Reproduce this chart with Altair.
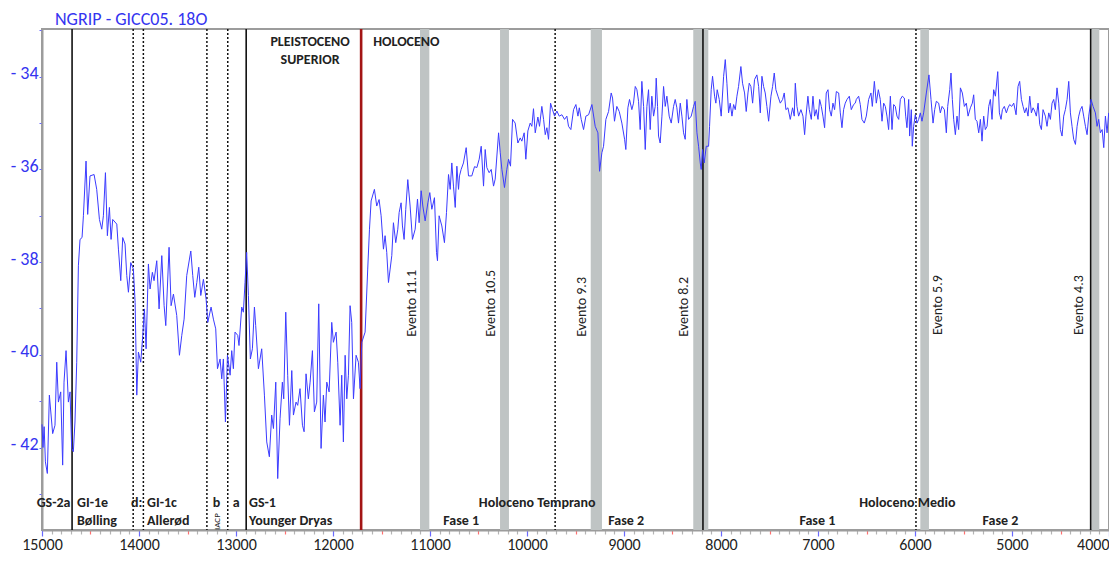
import altair as alt
import pandas as pd

FONT = "Carlito, Lato, sans-serif"
BLUE = "#3434f0"

# ---------------- data: NGRIP d18O curve (years b2k, per mil) ----------------
years = [
    15000, 14990, 14978, 14965, 14945, 14924, 14890, 14866, 14848, 14831, 14807, 14787, 14773, 14752,
    14728, 14711, 14694, 14677, 14660, 14642, 14625, 14608, 14587, 14573, 14546, 14529, 14505, 14463,
    14436, 14408, 14384, 14367, 14346, 14326, 14305, 14288, 14271, 14229, 14212, 14188, 14168, 14144,
    14126, 14109, 14085, 14058, 14040, 14023, 14006, 13982, 13961, 13944, 13927, 13903, 13886, 13862,
    13845, 13817, 13793, 13765, 13741, 13724, 13690, 13669, 13645, 13611, 13583, 13559, 13535, 13508,
    13466, 13446, 13425, 13404, 13384, 13363, 13336, 13308, 13291, 13257, 13233, 13209, 13191, 13164,
    13147, 13130, 13109, 13088, 13061, 13044, 13027, 13010, 12982, 12969, 12941, 12924, 12907, 12890,
    12872, 12852, 12831, 12810, 12797, 12769, 12735, 12707, 12683, 12656, 12632, 12614, 12590, 12570,
    12546, 12522, 12508, 12487, 12467, 12449, 12425, 12408, 12381, 12364, 12340, 12315, 12298, 12278,
    12254, 12236, 12212, 12192, 12168, 12147, 12123, 12099, 12082, 12064, 12040, 12013, 11996, 11968,
    11951, 11927, 11910, 11893, 11875, 11858, 11841, 11824, 11807, 11789, 11762, 11738, 11721, 11703,
    11669, 11642, 11624, 11607, 11573, 11549, 11525, 11504, 11480, 11463, 11446, 11428, 11411, 11394,
    11377, 11353, 11332, 11318, 11298, 11284, 11267, 11250, 11229, 11205, 11181, 11153,
    11129, 11112, 11091, 11074, 11050, 11022, 11002, 10981, 10954, 10933, 10923, 10906, 10878, 10851,
    10830, 10809, 10792, 10775, 10758, 10740, 10723, 10706, 10696, 10679, 10655, 10627, 10603, 10569,
    10541, 10517, 10493, 10472, 10448, 10431, 10414, 10390, 10369, 10345, 10328, 10293, 10276, 10259,
    10232, 10208, 10190, 10170, 10149, 10122, 10094, 10070, 10053, 10029, 10012, 9991, 9967, 9950,
    9933, 9915, 9888, 9871, 9847, 9829, 9812, 9795, 9778, 9757, 9737, 9716, 9692, 9668,
    9640, 9613, 9589, 9572, 9548, 9520, 9496, 9475, 9461, 9441, 9417, 9393, 9365, 9331,
    9297, 9269, 9252,
    9228, 9211, 9187, 9159, 9132, 9118, 9098, 9074, 9049, 9022, 8994, 8981, 8960, 8943,
    8919, 8902, 8884, 8867, 8850, 8833, 8816, 8798, 8781, 8764, 8747, 8730, 8713, 8695,
    8678, 8668, 8654, 8644, 8627, 8609, 8592, 8575, 8558, 8534, 8513, 8489, 8472, 8455,
    8438, 8420, 8403, 8386, 8369, 8352, 8334, 8307, 8283, 8266, 8248, 8231, 8214, 8204,
    8190, 8173, 8152, 8128, 8118, 8101, 8087, 8066, 8053, 8039, 8018, 7998, 7973, 7956,
    7939, 7922, 7905, 7887, 7870, 7853, 7836, 7819, 7795, 7778, 7757, 7740, 7722, 7709,
    7692, 7674, 7654, 7630, 7612, 7595, 7578, 7561, 7544, 7527, 7509, 7485, 7468, 7451,
    7434, 7413, 7389, 7365, 7348, 7331, 7310, 7286, 7262, 7245, 7234, 7217, 7200, 7176,
    7155, 7138, 7124, 7104, 7090, 7069, 7052, 7035, 7018, 7000, 6983, 6966, 6949, 6932,
    6915, 6897, 6880, 6863, 6846, 6829, 6811, 6787, 6770, 6753, 6736, 6719, 6701, 6677,
    6657, 6633, 6616,
    6605, 6581, 6564, 6547, 6523, 6502, 6478, 6454, 6440, 6419, 6399, 6378, 6358, 6340,
    6323, 6306, 6289, 6272, 6254, 6237, 6220, 6203, 6186, 6168, 6151, 6131, 6110, 6096,
    6083, 6065, 6055, 6038, 6028, 6014, 5997, 5979, 5962, 5945, 5928, 5911, 5883, 5856,
    5835, 5814, 5797, 5780, 5756, 5739, 5721, 5697, 5677, 5663, 5642, 5629, 5615, 5601,
    5584, 5567, 5550, 5532, 5512, 5491, 5471, 5453, 5429, 5409, 5395, 5378, 5361, 5343,
    5326, 5309, 5292, 5275, 5257, 5240, 5223, 5206, 5189, 5171, 5147, 5130, 5113, 5099,
    5079, 5058, 5041, 5024, 5003, 4982, 4958, 4938, 4921, 4903, 4886, 4869, 4852, 4835,
    4817, 4800, 4783, 4766, 4749, 4731, 4714, 4697, 4680, 4656, 4639, 4621, 4604, 4587,
    4570, 4553, 4536, 4518, 4501, 4484, 4467, 4450, 4432, 4415, 4398, 4381, 4364, 4346,
    4329, 4312, 4295, 4278, 4261, 4243, 4226, 4209, 4185, 4164, 4140, 4123, 4106, 4089,
    4071, 4054, 4037, 4020, 4003,
]
d18o = [
    -41.50, -42.00, -41.55, -42.31, -42.56, -40.87, -41.70, -41.52, -40.16, -41.02, -40.80, -42.38, -40.59, -39.91,
    -41.02, -40.80, -42.02, -42.09, -41.45, -40.16, -38.08, -37.51, -37.47, -37.00, -35.82, -36.97, -36.14, -36.11,
    -36.43, -37.08, -37.29, -37.00, -36.07, -37.43, -36.82, -37.51, -37.08, -37.18, -37.72, -38.40, -37.47, -37.61,
    -38.29, -38.65, -38.01, -38.15, -38.87, -40.87, -39.94, -40.16, -39.58, -39.01, -39.87, -38.04, -38.58, -38.22,
    -38.40, -37.97, -39.01, -37.86, -38.94, -39.37, -37.68, -38.94, -38.69, -39.15, -40.01, -39.58, -39.23, -38.29,
    -37.76, -38.29, -38.76, -38.44, -38.11, -38.72, -38.37, -38.80, -39.30, -38.97, -39.23, -39.44, -40.30, -40.09,
    -40.52, -40.09, -41.45, -40.01, -40.44, -39.91, -40.30, -39.51, -39.58, -39.80, -38.97, -39.08, -38.44, -37.79,
    -38.72, -40.09, -39.87, -38.97, -39.37, -40.30, -39.87, -40.87, -41.88, -42.20, -41.30, -41.59, -40.59, -42.67,
    -41.38, -40.59, -40.95, -39.08, -40.44, -41.52, -40.34, -41.30, -41.02, -41.09, -40.73, -41.52, -41.66, -40.41,
    -40.95, -40.59, -39.91, -41.23, -41.02, -38.90, -42.02, -40.87, -41.45, -40.59, -40.80, -39.30, -39.73, -39.51,
    -40.16, -41.52, -40.44, -41.88, -40.01, -40.95, -40.44, -38.94, -39.30, -40.95, -40.01, -40.16, -40.73, -39.73,
    -39.51, -38.15, -37.29, -36.68, -36.43, -36.79, -36.65, -37.00, -37.72, -37.43, -37.79, -38.44, -38.15, -37.86,
    -37.15, -37.58, -37.29, -36.93, -36.72, -37.22, -37.51, -36.86, -36.22, -36.79, -37.51, -37.29,
    -36.64, -37.15, -36.46, -36.79, -37.11, -36.72, -36.50, -36.86, -36.61, -37.79, -37.97, -37.00, -37.22, -37.58,
    -36.93, -36.11, -36.43, -35.86, -36.36, -36.82, -35.93, -36.43, -36.14, -36.00, -35.86, -35.53, -36.14, -36.14,
    -35.94, -35.96, -35.78, -35.50, -36.36, -35.57, -35.96, -36.07, -36.00, -36.36, -36.21, -35.21, -35.64, -36.00,
    -36.39, -36.00, -35.78, -35.93, -34.92, -35.00, -35.43, -35.32, -35.39, -35.21, -35.78, -35.17, -35.00, -35.07,
    -34.69, -35.21, -34.87, -35.07, -34.64, -34.92, -35.25, -35.10, -35.35, -34.57, -34.71, -34.85, -34.74, -34.85,
    -34.82, -34.92, -34.85, -35.07, -35.14, -34.71, -34.60, -34.85, -34.67, -34.92, -35.14, -34.85, -34.82, -34.60,
    -35.07, -35.21, -36.04,
    -35.64, -35.50, -34.92, -34.75, -34.35, -34.46, -34.96, -34.64, -34.75, -35.00, -35.35, -35.57, -34.67, -34.49,
    -34.71, -34.57, -34.21, -34.28, -34.53, -35.14, -34.10, -34.64, -35.57, -34.64, -34.28, -35.14, -34.42, -34.85,
    -34.64, -34.03, -34.64, -35.28, -35.43, -34.85, -34.21, -34.64, -34.42, -34.85, -35.00, -34.64, -34.49, -34.67,
    -35.00, -34.57, -34.85, -35.21, -35.35, -34.49, -34.92, -34.85, -34.64, -34.53, -35.21, -35.50, -35.86, -36.00,
    -35.57, -35.86, -35.50, -35.50, -35.07, -34.28, -33.99, -34.42, -34.57, -34.28, -34.49, -34.85, -33.99, -33.63,
    -34.14, -34.78, -34.57, -34.85, -34.60, -34.71, -34.42, -34.21, -33.78, -34.14, -34.35, -34.75, -34.35, -34.14,
    -34.21, -34.57, -34.06, -33.96, -34.21, -34.78, -33.99, -34.21, -34.35, -34.64, -34.96, -34.42, -34.21, -33.92,
    -34.28, -34.42, -34.57, -34.49, -34.35, -34.71, -34.67, -34.92, -34.67, -34.85, -34.14, -34.64, -34.85, -34.71,
    -34.85, -35.25, -34.85, -34.42, -34.71, -34.92, -34.42, -34.85, -34.71, -34.92, -34.49, -34.64, -34.85, -35.10,
    -34.35, -34.28, -34.71, -34.85, -34.57, -34.71, -34.32, -34.35, -34.78, -35.10, -34.71, -34.57, -34.49, -34.42,
    -34.71, -34.60, -34.57,
    -34.49, -34.42, -34.60, -34.92, -35.00, -34.85, -34.49, -34.35, -34.64, -34.10, -34.57, -34.28, -34.49, -34.96,
    -34.57, -34.64, -34.85, -35.14, -34.42, -35.14, -34.60, -34.64, -34.85, -34.92, -34.49, -34.42, -34.46, -34.85,
    -35.10, -34.49, -35.28, -34.71, -35.50, -35.07, -34.82, -35.00, -34.92, -34.78, -34.96, -34.78, -34.35, -33.96,
    -34.49, -35.00, -34.71, -34.53, -34.57, -34.78, -34.64, -34.71, -35.21, -34.64, -34.28, -33.92, -34.49, -34.92,
    -35.25, -34.85, -35.14, -34.24, -34.35, -34.64, -34.57, -34.85, -34.67, -34.57, -34.39, -34.92, -34.96, -35.21,
    -34.92, -35.39, -34.85, -35.14, -35.07, -34.64, -34.49, -34.92, -34.28, -34.42, -33.89, -34.78, -34.92, -34.71,
    -34.64, -34.78, -34.67, -34.60, -34.64, -34.57, -34.82, -34.21, -34.10, -34.49, -34.64, -34.78, -34.67, -34.85,
    -34.42, -34.78, -34.67, -34.74, -34.85, -34.57, -35.03, -35.14, -34.71, -34.85, -35.07, -34.78, -34.92, -34.57,
    -34.49, -34.71, -34.24, -34.57, -35.14, -35.28, -34.85, -34.71, -34.49, -34.10, -34.78, -35.07, -35.35, -35.46,
    -35.07, -34.85, -34.71, -34.64, -34.85, -35.07, -35.25, -34.85, -34.49, -34.64, -34.78, -35.07, -34.92, -35.21,
    -35.14, -35.53, -34.85, -35.21, -34.78,
]

# ---------------- annotations ----------------
solid_years = [14690, 12895, 8186, 4189]
dotted_years = [14060, 13955, 13300, 13085, 9710, 5990]
red_years = [11710]
band_start = [11103, 10278, 9343, 8286, 5945, 4182]
band_end = [11007, 10186, 9227, 8131, 5856, 4100]

event_text = ["Evento 11.1", "Evento 10.5", "Evento 9.3", "Evento 8.2", "Evento 5.9", "Evento 4.3"]
event_x = [11184, 10369, 9431, 8379, 5760, 4305]
event_y = [-39.61, -39.61, -39.61, -39.61, -39.57, -39.57]

title_text = ["NGRIP - GICC05. 18O"]
title_x = [14866]
title_y = [-32.78]

top_text = ["PLEISTOCENO", "SUPERIOR"]
top_x = [12236, 12236]
top_y = [-33.25, -33.64]
holo_text = ["HOLOCENO"]
holo_x = [11586]
holo_y = [-33.25]

left_text = ["GI-1e", "Bølling", "GI-1c", "Allerød", "GS-1", "Younger Dryas"]
left_x = [14639, 14639, 13917, 13917, 12865, 12865]
left_y = [-43.20, -43.59, -43.20, -43.59, -43.20, -43.59]

center_text = ["GS-2a", "d:", "b", "a", "Holoceno Temprano", "Fase 1", "Fase 2",
               "Holoceno Medio", "Fase 1", "Fase 2"]
center_x = [14881, 14025, 13202, 12999, 9895, 10679, 8977, 6079, 7007, 5120]
center_y = [-43.20, -43.20, -43.20, -43.20, -43.20, -43.59, -43.59, -43.20, -43.59, -43.59]

iacp_text = ["IACP"]
iacp_x = [13200]
iacp_y = [-43.60]

xtick_values = list(range(4000, 15001, 100))
ytick_values = list(range(-43, -32))

# ---------------- chart ----------------
xscale = alt.Scale(domain=[4000, 15000], reverse=True, nice=False, zero=False)
yscale = alt.Scale(domain=[-43.78, -32.97], nice=False, zero=False)

xaxis = alt.Axis(
    values=xtick_values, format="d",
    labelExpr="datum.value % 1000 == 0 ? datum.label : ''",
    labelOverlap=False, labelFlush=False, grid=False, title=None,
    labelAlign={"condition": {"test": "datum.value == 4000", "value": "right"}, "value": "center"},
    domainColor="#9c9c9c", domainWidth=2,
    tickColor={"condition": [
        {"test": "datum.value % 1000 == 0", "value": "#6a6aff"},
        {"test": "datum.value % 500 == 0", "value": "#ff7070"},
    ], "value": "#b4b4b4"},
    tickSize={"condition": {"test": "datum.value % 1000 == 0", "value": 6}, "value": 4},
    tickWidth=1.2,
    labelFont=FONT, labelFontSize=16, labelColor="#222222", labelPadding=0,
)
yaxis = alt.Axis(
    values=ytick_values,
    labelExpr="datum.value % 2 == 0 ? '- ' + abs(datum.value) : ''",
    labelOverlap=False, grid=False, title=None,
    domainColor="#9c9c9c", domainWidth=2,
    tickColor="#6a6aff", tickSize=3,
    labelFont=FONT, labelFontSize=18, labelColor=BLUE, labelPadding=1, labelOffset=-3,
)

curve_df = pd.DataFrame({"year": years, "d18o": d18o})

bands = alt.Chart(pd.DataFrame({"a": band_start, "b": band_end})).mark_rect(
    color="#bfc4c4"
).encode(x=alt.X("a:Q", scale=xscale, axis=xaxis), x2="b:Q")

solid = alt.Chart(pd.DataFrame({"x": solid_years})).mark_rule(
    color="#111111", strokeWidth=1.6
).encode(x=alt.X("x:Q", scale=xscale, axis=xaxis))

dotted = alt.Chart(pd.DataFrame({"x": dotted_years})).mark_rule(
    color="#111111", strokeWidth=1.5, strokeDash=[2, 2]
).encode(x=alt.X("x:Q", scale=xscale, axis=xaxis))

red = alt.Chart(pd.DataFrame({"x": red_years})).mark_rule(
    color="#a31515", strokeWidth=2.6
).encode(x=alt.X("x:Q", scale=xscale, axis=xaxis))

curve = alt.Chart(curve_df).mark_line(color="#3b3bff", strokeWidth=1).encode(
    x=alt.X("year:Q", scale=xscale, axis=xaxis),
    y=alt.Y("d18o:Q", scale=yscale, axis=yaxis),
)


def text_layer(texts, xs, ys, **kw):
    df = pd.DataFrame({"t": texts, "x": xs, "y": ys})
    return alt.Chart(df).mark_text(font=FONT, **kw).encode(
        x=alt.X("x:Q", scale=xscale, axis=xaxis),
        y=alt.Y("y:Q", scale=yscale, axis=yaxis),
        text="t:N",
    )


title = text_layer(title_text, title_x, title_y, align="left", baseline="middle",
                   fontSize=18, color=BLUE)
events = text_layer(event_text, event_x, event_y, angle=270, align="left",
                    baseline="middle", fontSize=14, color="#222222")
tops = text_layer(top_text, top_x, top_y, align="center", baseline="middle",
                  fontSize=14, fontWeight="bold", color="#222222")
holo = text_layer(holo_text, holo_x, holo_y, align="left", baseline="middle",
                  fontSize=14, fontWeight="bold", color="#222222")
lefts = text_layer(left_text, left_x, left_y, align="left", baseline="middle",
                   fontSize=14, fontWeight="bold", color="#222222")
centers = text_layer(center_text, center_x, center_y, align="center", baseline="middle",
                     fontSize=14, fontWeight="bold", color="#222222")
iacp = text_layer(iacp_text, iacp_x, iacp_y, angle=270, align="center", baseline="middle",
                  fontSize=9, color="#222222")

chart = alt.layer(
    bands, solid, dotted, red, curve, title, events, tops, holo, lefts, centers, iacp
).properties(
    width=1067, height=501,
    autosize=alt.AutoSizeParams(type="none"),
    padding={"left": 34, "top": 21, "right": 0, "bottom": 23},
).configure_view(stroke="#9c9c9c", strokeWidth=2)

chart.save("out.html", embed_options={"renderer": "svg", "actions": False})
